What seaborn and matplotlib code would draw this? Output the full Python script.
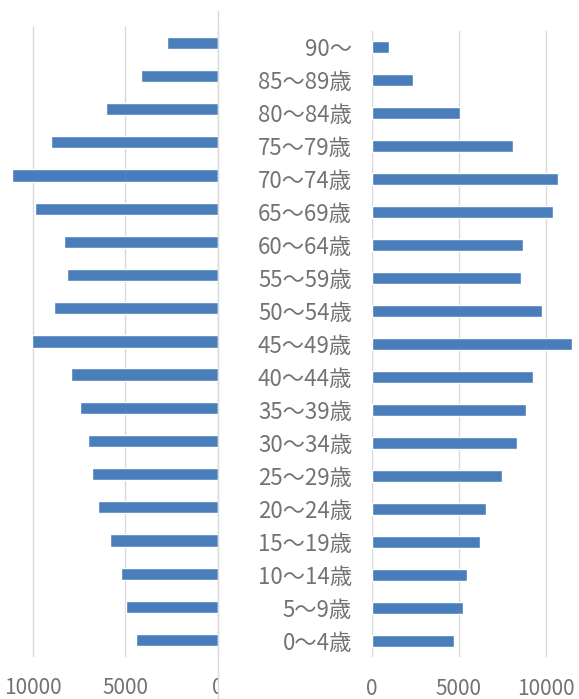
import matplotlib
matplotlib.use("Agg")
import matplotlib.pyplot as plt
import pandas as pd
import seaborn as sns
from matplotlib.lines import Line2D
from matplotlib.transforms import Bbox, TransformedBbox

sns.set_theme(style="white")
plt.rcParams["font.family"] = ["Noto Sans CJK JP", "DejaVu Sans"]

# age groups, top to bottom
ages = ["90～", "85～89歳", "80～84歳", "75～79歳", "70～74歳", "65～69歳",
        "60～64歳", "55～59歳", "50～54歳", "45～49歳", "40～44歳", "35～39歳",
        "30～34歳", "25～29歳", "20～24歳", "15～19歳", "10～14歳", "5～9歳", "0～4歳"]
left_vals = [2760, 4160, 6020, 9010, 11100, 9880, 8290, 8160, 8850, 10020,
             7950, 7430, 7000, 6810, 6450, 5800, 5210, 4940, 4400]
right_vals = [1020, 2400, 5090, 8110, 10710, 10390, 8650, 8560, 9740, 11500,
              9240, 8860, 8330, 7480, 6580, 6240, 5480, 5260, 4710]
ticks = [0, 5000, 10000]

BLUE = "#4a7ebb"
GRID = "#d9d9d9"
TXT = "#737373"

df_l = pd.DataFrame({"age": ages, "n": left_vals})
df_r = pd.DataFrame({"age": ages, "n": right_vals})

W, H = 579, 699
fig = plt.figure(figsize=(W / 100, H / 100), dpi=100)

# left panel (bars grow to the left)
axL = fig.add_axes([-4.3 / W, (H - 656.6) / H, 222 / W, 630.4 / H])
sns.barplot(data=df_l, x="n", y="age", orient="h", color=BLUE, width=0.37,
            saturation=1, ax=axL)
axL.set_xlim(12000, 0)
axL.set_xticks(ticks)
axL.set_xticklabels([f"{t}" for t in ticks])
axL.set_yticks([])
axL.set_xlabel("")
axL.set_ylabel("")

# right panel
axR = fig.add_axes([371.5 / W, (H - 657.2) / H, 209.5 / W, 626.4 / H])
sns.barplot(data=df_r, x="n", y="age", orient="h", color=BLUE, width=0.37,
            saturation=1, ax=axR)
axR.set_xlim(0, 12000)
axR.set_xticks(ticks)
axR.set_xticklabels([f"{t}" for t in ticks])
axR.set_xlabel("")
axR.set_ylabel("")

for ax in (axL, axR):
    for s in ax.spines.values():
        s.set_visible(False)
    ax.grid(axis="x", color=GRID, linewidth=1)
    ax.grid(axis="y", visible=False)
    ax.set_axisbelow(True)
    ax.tick_params(axis="x", length=0, pad=15, labelsize=15, labelcolor=TXT)

axR.tick_params(axis="y", length=0, pad=14, labelsize=16, labelcolor=TXT)

# the "0" of the left panel is cut by its border
clip = TransformedBbox(Bbox([[0, 0], [218 / W, 1]]), fig.transFigure)
for lab in axL.get_xticklabels():
    lab.set_clip_box(clip)
    lab.set_clip_on(True)

fig.add_artist(Line2D([218 / W, 218 / W], [0, (H - 11) / H],
                      transform=fig.transFigure, color=GRID, linewidth=1))

fig.savefig("out.png", dpi=100)
